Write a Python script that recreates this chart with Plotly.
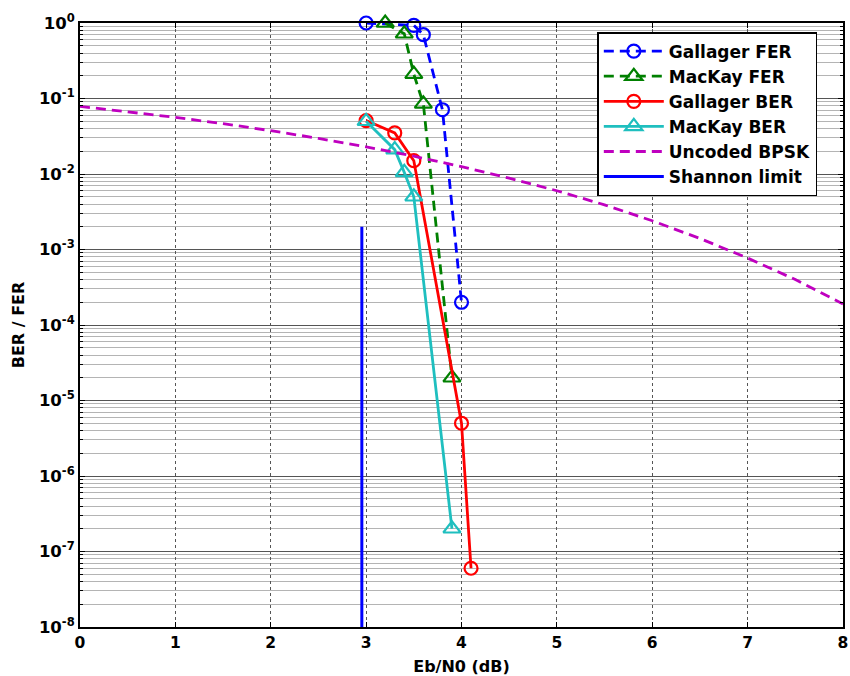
import plotly.graph_objects as go

# Eb/N0 (dB) and error rates for each curve
gallager_fer_x = [3.0, 3.5, 3.6, 3.8, 4.0]
gallager_fer_y = [1.0, 0.93, 0.70, 0.071, 2e-4]

mackay_fer_x = [3.2, 3.4, 3.5, 3.6, 3.9]
mackay_fer_y = [1.0, 0.72, 0.21, 0.085, 2e-5]

gallager_ber_x = [3.0, 3.3, 3.5, 4.0, 4.1]
gallager_ber_y = [0.051, 0.035, 0.015, 5e-6, 6e-8]

mackay_ber_x = [3.0, 3.3, 3.4, 3.5, 3.9]
mackay_ber_y = [0.05, 0.021, 0.0105, 0.005, 2e-7]

bpsk_x = [0.0, 0.5, 1.0, 1.5, 2.0, 2.5, 3.0, 3.5, 4.0, 4.5, 5.0, 5.5, 6.0, 6.5, 7.0, 7.5, 8.0]
bpsk_y = [0.0786, 0.0671, 0.0563, 0.0464, 0.0375, 0.0296, 0.0229, 0.0172, 0.0125,
          0.0088, 0.0060, 0.0039, 0.0024, 0.0014, 7.7e-4, 4.0e-4, 1.9e-4]

shannon_x = [2.955, 2.955]
shannon_y = [1e-8, 2e-3]

y_tick_vals = [1e-8, 1e-7, 1e-6, 1e-5, 1e-4, 1e-3, 1e-2, 1e-1, 1.0]
y_tick_text = ["10<sup>-8</sup>", "10<sup>-7</sup>", "10<sup>-6</sup>",
               "10<sup>-5</sup>", "10<sup>-4</sup>", "10<sup>-3</sup>",
               "10<sup>-2</sup>", "10<sup>-1</sup>", "10<sup>0</sup>"]
x_tick_vals = [0, 1, 2, 3, 4, 5, 6, 7, 8]

FONT = "DejaVu Sans"
LW = 2.8
DASH = "10px,6px"


def bold(size):
    return dict(family=FONT, size=size, color="black", weight="bold")


fig = go.Figure()

fig.add_trace(go.Scatter(
    x=gallager_fer_x, y=gallager_fer_y, name="Gallager FER", mode="lines+markers",
    line=dict(color="#0000ff", width=LW, dash=DASH), cliponaxis=False,
    marker=dict(symbol="circle-open", size=13, color="#0000ff", line=dict(width=2.2))))
fig.add_trace(go.Scatter(
    x=mackay_fer_x, y=mackay_fer_y, name="MacKay FER", mode="lines+markers",
    line=dict(color="#008000", width=LW, dash=DASH), cliponaxis=False,
    marker=dict(symbol="triangle-up-open", size=15, color="#008000", line=dict(width=2.2))))
fig.add_trace(go.Scatter(
    x=gallager_ber_x, y=gallager_ber_y, name="Gallager BER", mode="lines+markers",
    line=dict(color="#ff0000", width=LW), cliponaxis=False,
    marker=dict(symbol="circle-open", size=13, color="#ff0000", line=dict(width=2.2))))
fig.add_trace(go.Scatter(
    x=mackay_ber_x, y=mackay_ber_y, name="MacKay BER", mode="lines+markers",
    line=dict(color="#1fbfbf", width=LW), cliponaxis=False,
    marker=dict(symbol="triangle-up-open", size=15, color="#1fbfbf", line=dict(width=2.2))))
fig.add_trace(go.Scatter(
    x=bpsk_x, y=bpsk_y, name="Uncoded BPSK", mode="lines",
    line=dict(color="#bf00bf", width=LW, dash=DASH)))
fig.add_trace(go.Scatter(
    x=shannon_x, y=shannon_y, name="Shannon limit", mode="lines",
    line=dict(color="#0000ff", width=3)))

fig.update_layout(
    width=850, height=676,
    margin=dict(l=80, r=7, t=23, b=49),
    paper_bgcolor="white", plot_bgcolor="white",
    font=bold(15),
    showlegend=True,
    legend=dict(
        x=0.678, y=0.985, xanchor="left", yanchor="top",
        bgcolor="white", bordercolor="black", borderwidth=1.5,
        font=bold(17),
        tracegroupgap=0, itemwidth=60,
    ),
)

fig.update_xaxes(
    range=[0, 8], tickvals=x_tick_vals,
    tickfont=bold(15.5),
    showgrid=True, gridcolor="#555555", gridwidth=1, griddash="dot",
    showline=True, linecolor="black", linewidth=2, mirror="ticks",
    ticks="inside", ticklen=5, tickcolor="black",
    zeroline=False, automargin=False,
    title=dict(text="Eb/N0 (dB)", font=bold(16), standoff=10),
)

fig.update_yaxes(
    type="log", range=[-8, 0],
    tickvals=y_tick_vals, ticktext=y_tick_text,
    tickfont=bold(16.5),
    showgrid=True, gridcolor="#555555", gridwidth=1,
    showline=True, linecolor="black", linewidth=2, mirror="ticks",
    ticks="inside", ticklen=5, tickcolor="black",
    minor=dict(dtick="D1", showgrid=True, gridcolor="#b4b4b4", gridwidth=1,
               ticks="inside", ticklen=3, tickcolor="black"),
    zeroline=False, automargin=False,
    title=dict(text="BER / FER", font=bold(16), standoff=10),
)

fig.write_html("out.html")
